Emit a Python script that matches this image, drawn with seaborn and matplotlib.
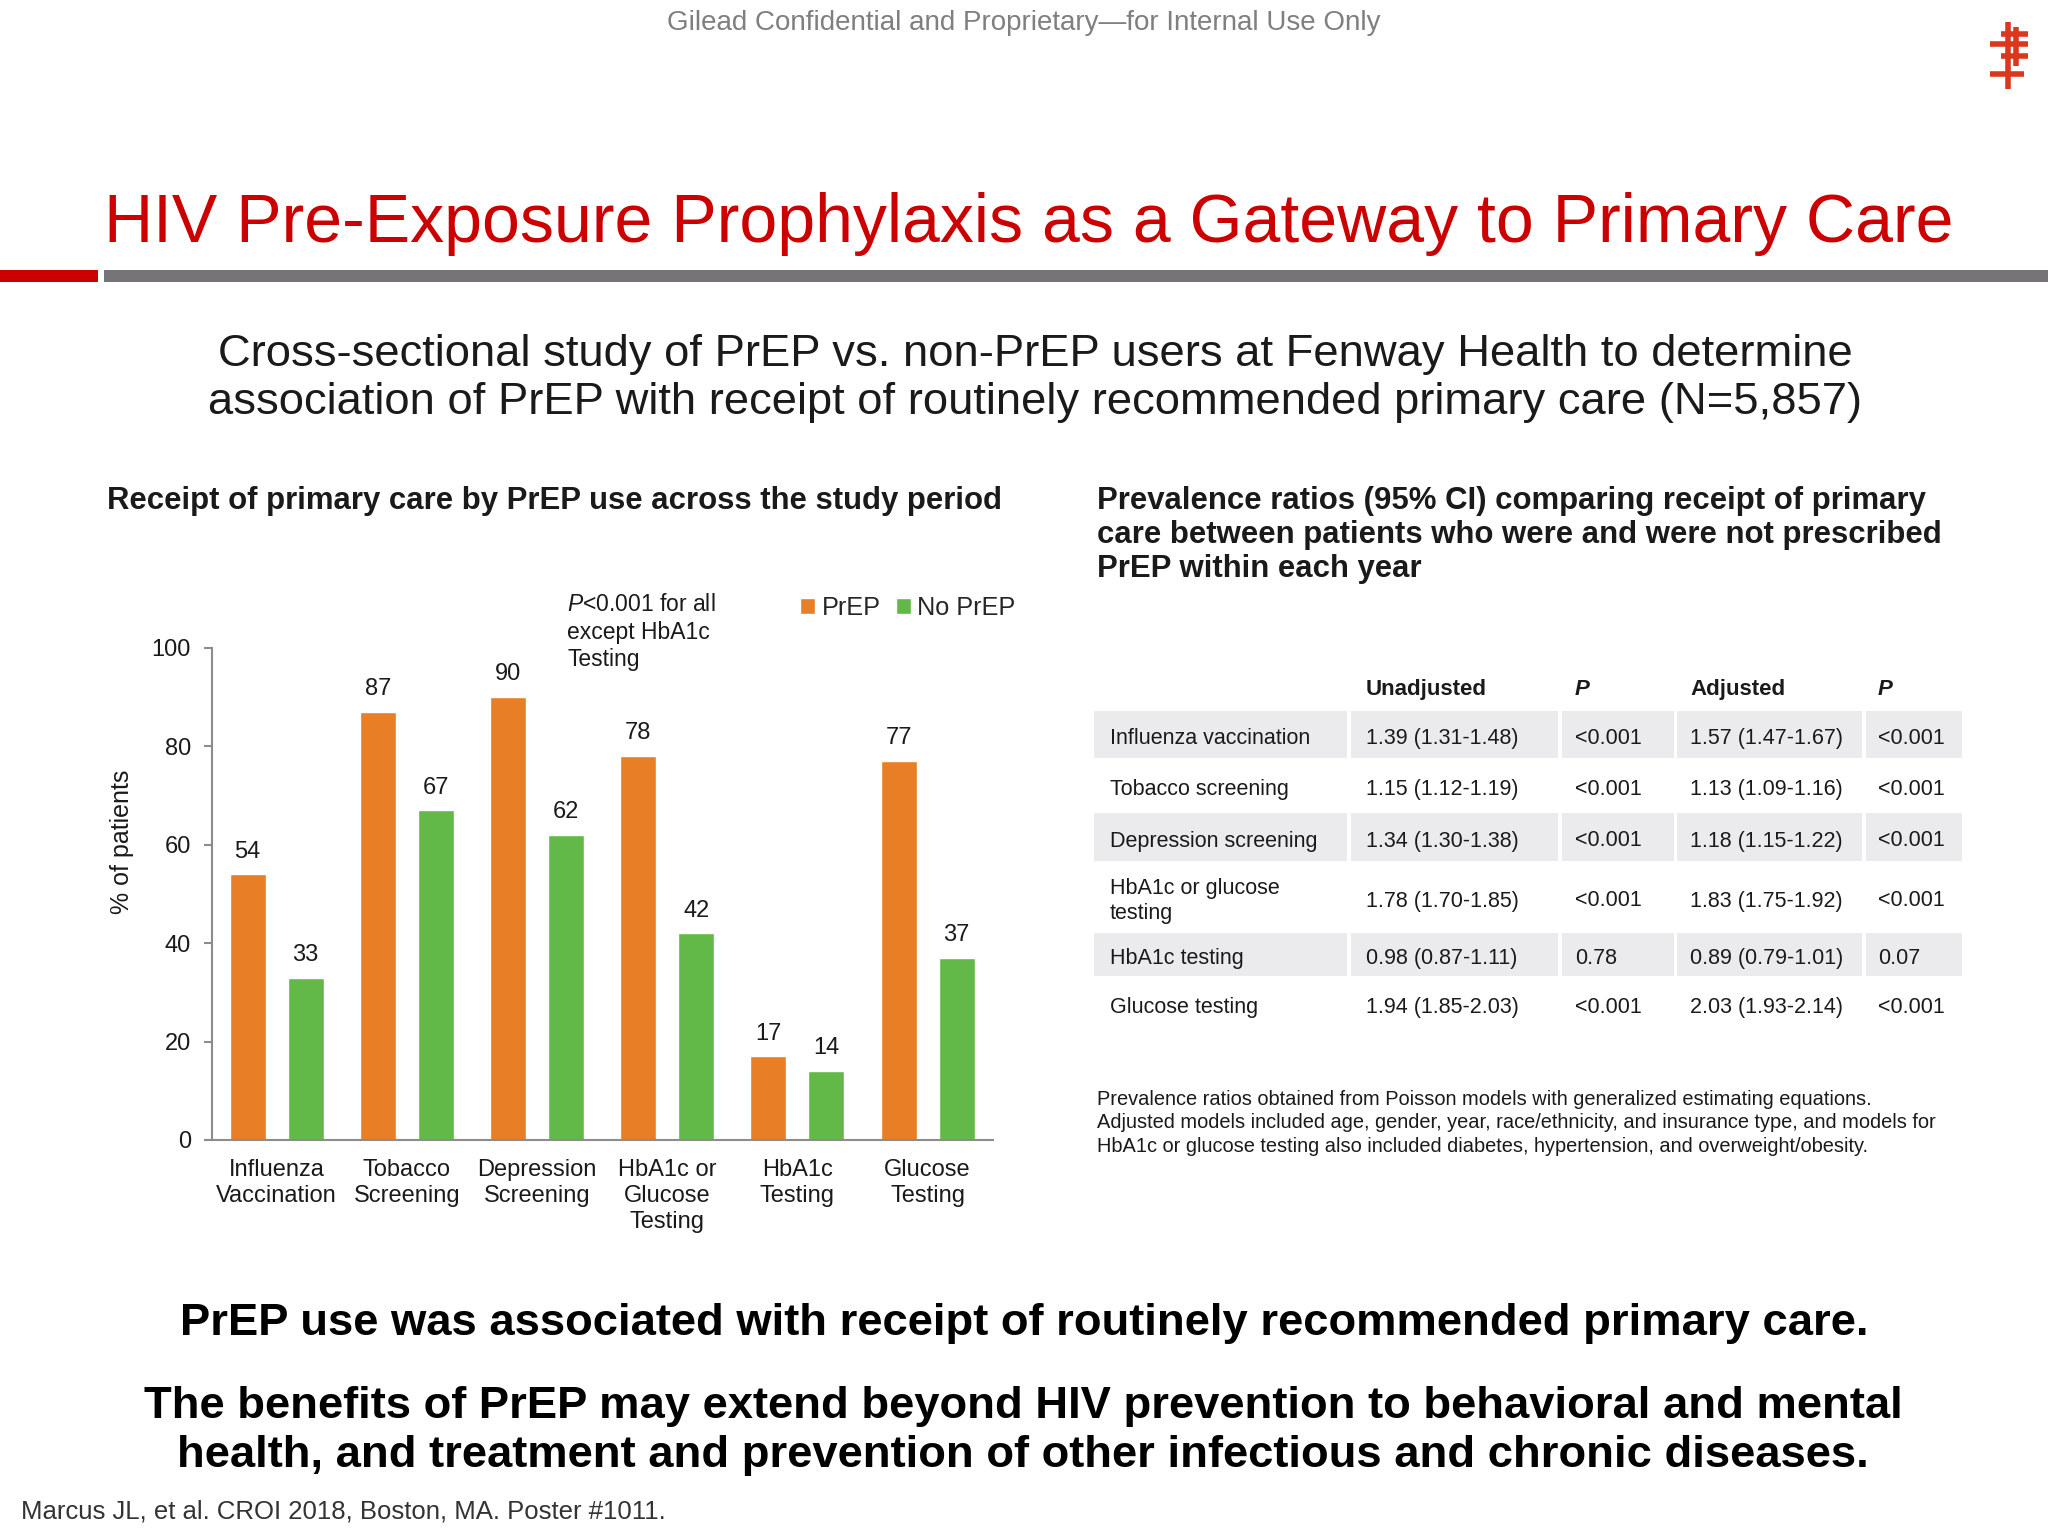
import numpy as np
import pandas as pd
import matplotlib.pyplot as plt
import seaborn as sns
from matplotlib.patches import Rectangle
from matplotlib.lines import Line2D

# bar chart data
categories = ["Influenza\nVaccination", "Tobacco\nScreening", "Depression\nScreening",
              "HbA1c or\nGlucose\nTesting", "HbA1c\nTesting", "Glucose\nTesting"]
prep_pct = [54, 87, 90, 78, 17, 77]
no_prep_pct = [33, 67, 62, 42, 14, 37]
groups = ["PrEP", "No PrEP"]
y_ticks = [0, 20, 40, 60, 80, 100]

# prevalence ratio table
table_rows = ["Influenza vaccination", "Tobacco screening", "Depression screening",
              "HbA1c or glucose\ntesting", "HbA1c testing", "Glucose testing"]
unadjusted = ["1.39 (1.31-1.48)", "1.15 (1.12-1.19)", "1.34 (1.30-1.38)",
              "1.78 (1.70-1.85)", "0.98 (0.87-1.11)", "1.94 (1.85-2.03)"]
p_unadjusted = ["<0.001", "<0.001", "<0.001", "<0.001", "0.78", "<0.001"]
adjusted = ["1.57 (1.47-1.67)", "1.13 (1.09-1.16)", "1.18 (1.15-1.22)",
            "1.83 (1.75-1.92)", "0.89 (0.79-1.01)", "2.03 (1.93-2.14)"]
p_adjusted = ["<0.001", "<0.001", "<0.001", "<0.001", "0.07", "<0.001"]

ORANGE = "#E87E25"
GREEN = "#63B948"
RED = "#CC0000"
TXT = "#1a1a1a"

sns.set_theme(style="white")
plt.rcParams["font.family"] = ["Liberation Sans", "DejaVu Sans"]
plt.rcParams["mathtext.fontset"] = "custom"
plt.rcParams["mathtext.rm"] = "Liberation Sans"
plt.rcParams["mathtext.it"] = "Liberation Sans:italic"

W, H = 2048, 1536
fig = plt.figure(figsize=(20.48, 15.36), dpi=100)


def fy(y):
    return 1 - y / H


def put(x, y, s, **kw):
    kw.setdefault("color", TXT)
    fig.text(x / W, fy(y), s, **kw)


def box(x0, y0, x1, y1, color):
    fig.add_artist(Rectangle((x0 / W, fy(y1)), (x1 - x0) / W, (y1 - y0) / H,
                             transform=fig.transFigure, color=color, lw=0))


# slide header
put(1024, 30, "Gilead Confidential and Proprietary\u2014for Internal Use Only",
    fontsize=20, color="#7f7f7f", ha="center", va="baseline")
for x0, y0, x1, y1 in [(2008, 22, 2008, 89), (2016, 27, 2016, 66),
                       (2001, 34, 2028, 34), (1990, 44, 2028, 44),
                       (2001, 56, 2028, 56), (1990, 74, 2024, 74)]:
    fig.add_artist(Line2D([x0 / W, x1 / W], [fy(y0), fy(y1)], color="#D9381E",
                          lw=4, solid_capstyle="butt", transform=fig.transFigure))

put(104, 242, "HIV Pre-Exposure Prophylaxis as a Gateway to Primary Care",
    fontsize=49, color=RED, ha="left", va="baseline")
box(0, 270, 98, 282, RED)
box(104, 270, 2048, 282, "#767476")

put(1035, 366, "Cross-sectional study of PrEP vs. non-PrEP users at Fenway Health to determine",
    fontsize=32.7, ha="center", va="baseline")
put(1035, 414, "association of PrEP with receipt of routinely recommended primary care (N=5,857)",
    fontsize=32.7, ha="center", va="baseline")

# left panel: bar chart
put(107, 509, "Receipt of primary care by PrEP use across the study period",
    fontsize=22.4, fontweight="bold", ha="left", va="baseline")

ax = fig.add_axes([211.6 / W, fy(1140), (992.7 - 211.6) / W, (1140 - 648) / H])
df = pd.DataFrame({
    "category": categories * 2,
    "group": [g for g in groups for _ in categories],
    "pct": prep_pct + no_prep_pct,
})
sns.barplot(data=df, x="category", y="pct", hue="group", order=categories,
            hue_order=groups, palette={"PrEP": ORANGE, "No PrEP": GREEN},
            saturation=1, errorbar=None, width=0.89, gap=0.378, ax=ax)
for cont in ax.containers:
    ax.bar_label(cont, fmt="%d", padding=8.5, fontsize=17, color=TXT)

ax.set_xlim(-0.5, len(categories) - 0.5)
ax.set_ylim(0, 100)
ax.set_yticks(y_ticks)
ax.set_xticks(np.arange(-0.5, len(categories)), minor=True)
ax.tick_params(axis="x", which="major", length=0, pad=14, labelsize=17, labelcolor=TXT)
ax.tick_params(axis="x", which="minor", length=6, width=1.5, color="#8c8c8c", direction="out")
ax.tick_params(axis="y", length=6, width=1.5, color="#8c8c8c", direction="out",
               pad=9, labelsize=17, labelcolor=TXT, left=True)
for lab in ax.get_xticklabels():
    lab.set_linespacing(1.22)
sns.despine(ax=ax)
for side in ["left", "bottom"]:
    ax.spines[side].set_color("#8c8c8c")
    ax.spines[side].set_linewidth(1.5)
ax.set_xlabel("")
ax.set_ylabel("% of patients", fontsize=18, color=TXT)
ax.yaxis.set_label_coords(-0.099, 0.606)

handles, labels = ax.get_legend_handles_labels()
ax.get_legend().remove()
fig.legend(handles, labels, loc="center left", bbox_to_anchor=(800 / W, fy(608)),
           ncol=2, frameon=False, fontsize=18.2, handlelength=0.6, handleheight=0.6,
           handletextpad=0.25, columnspacing=0.6, borderpad=0, borderaxespad=0)

put(567, 611, "$\\it{P}$<0.001 for all", fontsize=16.5, ha="left", va="baseline")
put(567, 639, "except HbA1c", fontsize=16.5, ha="left", va="baseline")
put(567, 666, "Testing", fontsize=16.5, ha="left", va="baseline")

# right panel: prevalence ratio table
for i, line in enumerate(["Prevalence ratios (95% CI) comparing receipt of primary",
                          "care between patients who were and were not prescribed",
                          "PrEP within each year"]):
    put(1097, 509 + 34 * i, line, fontsize=22.4, fontweight="bold", ha="left", va="baseline")

col_bounds = [(1094, 1347), (1351, 1558), (1562, 1674), (1677, 1862), (1866, 1962)]
text_x = [1110, 1366, 1575, 1690, 1878]
row_bounds = [(709, 760), (760, 811), (811, 863), (863, 931), (931, 978), (978, 1029)]

for x, head in zip(text_x[1:], ["Unadjusted", "P", "Adjusted", "P"]):
    put(x, 695, head, fontsize=16, fontweight="bold",
        fontstyle="italic" if head == "P" else "normal", ha="left", va="baseline")

for i, (y0, y1) in enumerate(row_bounds):
    if i % 2 == 0:
        for x0, x1 in col_bounds:
            box(x0, y0 + 2, x1, y1 - 2, "#EBEBED")
    cells = [table_rows[i], unadjusted[i], p_unadjusted[i], adjusted[i], p_adjusted[i]]
    for x, s in zip(text_x, cells):
        put(x, (y0 + y1) / 2 + 4, s, fontsize=15.5, ha="left", va="center", linespacing=1.28)

for i, line in enumerate(["Prevalence ratios obtained from Poisson models with generalized estimating equations.",
                          "Adjusted models included age, gender, year, race/ethnicity, and insurance type, and models for",
                          "HbA1c or glucose testing also included diabetes, hypertension, and overweight/obesity."]):
    put(1097, 1105 + 23.5 * i, line, fontsize=14.4, ha="left", va="baseline")

# conclusions
put(1024, 1335, "PrEP use was associated with receipt of routinely recommended primary care.",
    fontsize=32.7, fontweight="bold", color="black", ha="center", va="baseline")
put(1023, 1418, "The benefits of PrEP may extend beyond HIV prevention to behavioral and mental",
    fontsize=32.7, fontweight="bold", color="black", ha="center", va="baseline")
put(1023, 1467, "health, and treatment and prevention of other infectious and chronic diseases.",
    fontsize=32.7, fontweight="bold", color="black", ha="center", va="baseline")

put(21, 1519, "Marcus JL, et al. CROI 2018, Boston, MA. Poster #1011.",
    fontsize=18.5, color="#333333", ha="left", va="baseline")

fig.savefig("out.png", dpi=100)
